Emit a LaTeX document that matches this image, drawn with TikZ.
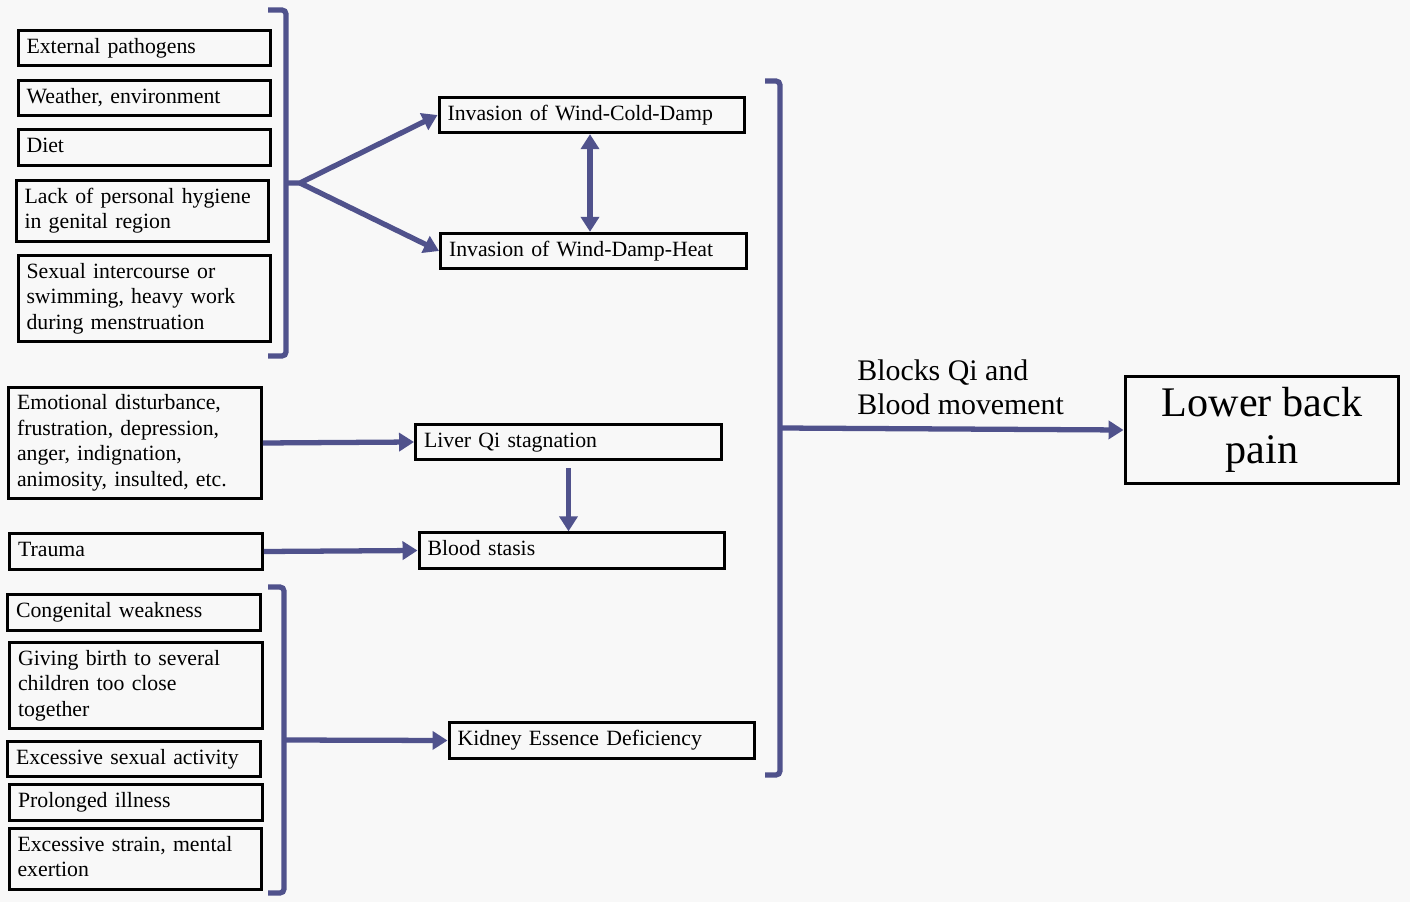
\documentclass[tikz,border=0pt]{standalone}
\usepackage{fontspec}
\setmainfont{Liberation Serif}
\usetikzlibrary{arrows.meta}
\definecolor{flowblue}{RGB}{80,82,140}
\definecolor{paper}{RGB}{248,248,248}
\tikzset{
  box/.style={draw=black, line width=1.7pt, inner xsep=0.17cm, inner ysep=2.8pt, align=left,
    font=\fontsize{12.4}{14.5}\selectfont,
    execute at begin node=\strut, execute at end node=\strut},
  leftbox/.style={box, text width=4.72cm},
  midbox/.style={box, text width=5.78cm},
  flow/.style={draw=flowblue, line width=3pt, -{Triangle[length=0.3cm,width=0.36cm]}},
  brace/.style={draw=flowblue, line width=3pt, rounded corners=0.08cm},
}
\begin{document}
\begin{tikzpicture}[x=0.02cm, y=-0.02cm]
  \fill[paper] (0,0) rectangle (1410,902);
  % causes
  \node[leftbox] (ext) at (144.5,48) {External pathogens};
  \node[leftbox] (weather) at (144.5,98) {Weather, environment};
  \node[leftbox] (diet) at (144.5,147.5) {Diet};
  \node[leftbox] (hyg) at (142.5,211) {Lack of personal hygiene\\in genital region};
  \node[leftbox] (sex) at (144.5,298.5) {Sexual intercourse or\\swimming, heavy work\\during menstruation};
  \node[leftbox] (emo) at (135,443) {Emotional disturbance,\\frustration, depression,\\anger, indignation,\\animosity, insulted, etc.};
  \node[leftbox] (trauma) at (136,551.5) {Trauma};
  \node[leftbox] (cong) at (134,612.5) {Congenital weakness};
  \node[leftbox] (birth) at (136,685.5) {Giving birth to several\\children too close\\together};
  \node[leftbox] (exsex) at (134,759) {Excessive sexual activity};
  \node[leftbox] (ill) at (136,802.5) {Prolonged illness};
  \node[leftbox] (strain) at (135.5,859) {Excessive strain, mental\\exertion};
  % patterns
  \node[midbox] (wcd) at (592,115) {Invasion of Wind-Cold-Damp};
  \node[midbox] (wdh) at (593.5,251) {Invasion of Wind-Damp-Heat};
  \node[midbox] (liver) at (568.5,442) {Liver Qi stagnation};
  \node[midbox] (blood) at (572,550.5) {Blood stasis};
  \node[midbox] (kidney) at (602,740.5) {Kidney Essence Deficiency};
  \node[draw, line width=1.7pt, minimum width=5.48cm, minimum height=2.16cm, align=center,
    font=\fontsize{24}{26.6}\selectfont] (pain) at (1262,430) {Lower back\\pain};
  \node[anchor=west, align=left, inner sep=0, font=\fontsize{17}{19.3}\selectfont] (blocks) at (857,387) {Blocks Qi and\\Blood movement};
  % brackets
  \draw[brace] (268,10) -- (286,10) -- (286,356) -- (268,356);
  \draw[brace] (765,81) -- (780,81) -- (780,775) -- (765,775);
  \draw[brace] (268,587) -- (284,587) -- (284,893) -- (268,893);
  \coordinate (b1) at (286,183);
  \coordinate (split) at (300,183);
  \coordinate (b2) at (780,428);
  \coordinate (b3) at (284,740);
  % arrows
  \draw[flow] (b1) -- (split) -- (wcd.west);
  \draw[flow] (split) -- (wdh.west);
  \draw[flow, {Triangle[length=0.3cm,width=0.36cm]}-{Triangle[length=0.3cm,width=0.36cm]}]
    ([xshift=-0.04cm]wcd.south) -- ([xshift=-0.04cm]wcd.south |- wdh.north);
  \draw[flow] (emo.east) -- (liver.west);
  \draw[flow, shorten <=0.14cm] (liver.south) -- (liver.south |- blood.north);
  \draw[flow] (trauma.east) -- (blood.west);
  \draw[flow] (b3) -- (kidney.west);
  \draw[flow] (b2) -- (pain.west);
\end{tikzpicture}
\end{document}
